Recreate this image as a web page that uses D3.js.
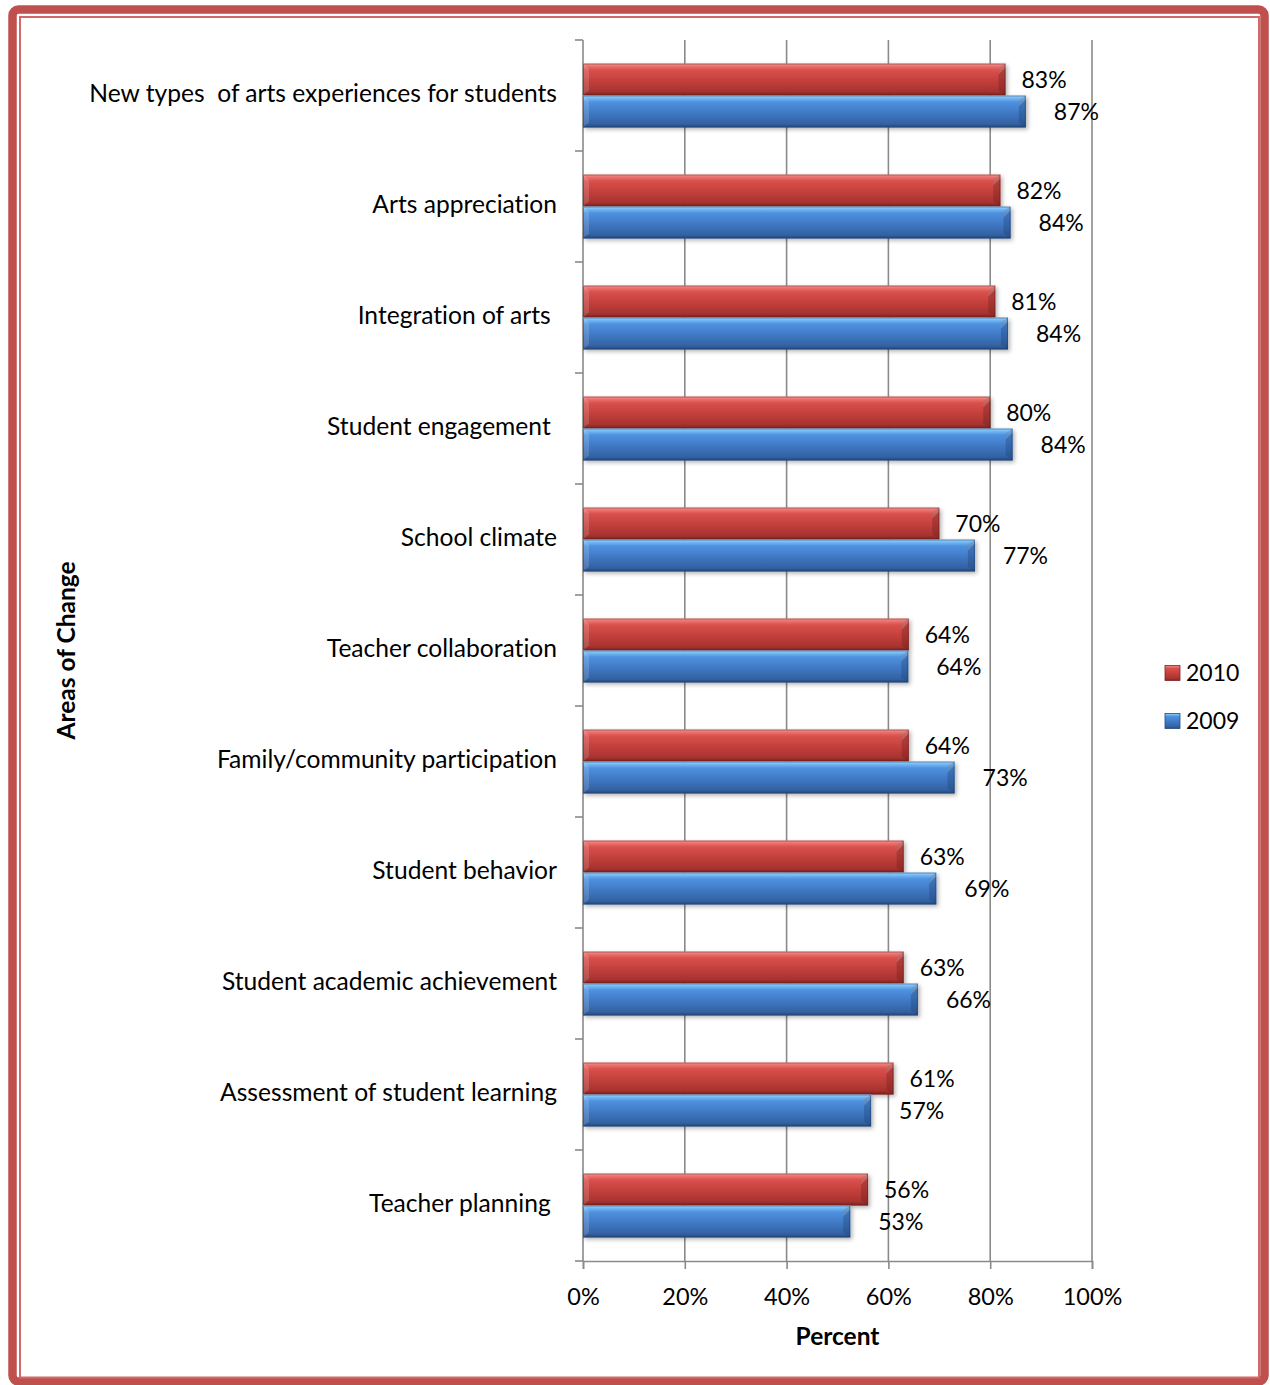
<!DOCTYPE html>
<html>
<head>
<meta charset="utf-8">
<script src="https://cdn.jsdelivr.net/npm/d3@7"></script>
<style>
  html, body { margin: 0; padding: 0; background: #ffffff; }
  svg { display: block; }
  text { font-family: Lato, "Open Sans", sans-serif; fill: #000; font-variant-ligatures: none; font-feature-settings: "liga" 0, "dlig" 0; }
</style>
</head>
<body>
<script>
// ---- data ----
const categories = [
  "New types  of arts experiences for students",
  "Arts appreciation",
  "Integration of arts ",
  "Student engagement ",
  "School climate",
  "Teacher collaboration",
  "Family/community participation",
  "Student behavior",
  "Student academic achievement",
  "Assessment of student learning",
  "Teacher planning "
];
const seriesNames = ["2010", "2009"];
const values2010 = [0.83, 0.82, 0.81, 0.80, 0.70, 0.64, 0.64, 0.63, 0.63, 0.61, 0.56];
const values2009 = [0.87, 0.84, 0.835, 0.844, 0.77, 0.639, 0.73, 0.694, 0.658, 0.566, 0.525];
const xTicks = [0, 0.2, 0.4, 0.6, 0.8, 1.0];
const xTitle = "Percent";
const yTitle = "Areas of Change";

// ---- layout ----
const W = 1270, H = 1385;
const plot = { left: 583, right: 1092, top: 40, bottom: 1261 };

const svg = d3.select("body").append("svg").attr("width", W).attr("height", H);
const defs = svg.append("defs");

function grad(id, stops) {
  const g = defs.append("linearGradient").attr("id", id)
    .attr("x1", 0).attr("y1", 0).attr("x2", 0).attr("y2", 1);
  stops.forEach(s => g.append("stop").attr("offset", s[0]).attr("stop-color", s[1]));
}
grad("gRed", [[0, "#f7a3a1"], [0.07, "#ee7572"], [0.2, "#d9504c"], [0.55, "#c23f3b"], [0.88, "#a6332f"], [1, "#7c2320"]]);
grad("gBlue", [[0, "#a8dcff"], [0.07, "#79bdf6"], [0.2, "#4f92e0"], [0.55, "#3f78c4"], [0.88, "#3462a3"], [1, "#24497c"]]);

const f = defs.append("filter").attr("id", "shadow").attr("x", "-5%").attr("y", "-30%").attr("width", "115%").attr("height", "170%");
f.append("feDropShadow").attr("dx", 2).attr("dy", 2).attr("stdDeviation", 2).attr("flood-color", "#000").attr("flood-opacity", 0.3);

// ---- frame ----
svg.append("rect").attr("x", 12.5).attr("y", 9.5).attr("width", 1264.5 - 12.5).attr("height", 1381.5 - 9.5)
  .attr("rx", 6).attr("fill", "none").attr("stroke", "#c0504d").attr("stroke-width", 8.5);
svg.append("rect").attr("x", 20).attr("y", 17).attr("width", 1259 - 20).attr("height", 1377.5 - 17)
  .attr("fill", "none").attr("stroke", "#d06a68").attr("stroke-width", 2);

// ---- scales ----
const x = d3.scaleLinear().domain([0, 1]).range([plot.left, plot.right]);
const y = d3.scaleBand().domain(categories).range([plot.top, plot.bottom]).paddingInner(0).paddingOuter(0);
const bh = y.bandwidth() * 0.288;
const groupOffset = (y.bandwidth() - 2 * bh) / 2;

// ---- gridlines ----
const gridColor = "#8a8a8a";
svg.append("g").selectAll("line").data(xTicks.slice(1)).join("line")
  .attr("x1", d => x(d)).attr("x2", d => x(d))
  .attr("y1", plot.top).attr("y2", plot.bottom)
  .attr("stroke", gridColor).attr("stroke-width", 1.6);

// ---- x axis ----
const xAxis = svg.append("g").attr("transform", `translate(0,${plot.bottom})`)
  .call(d3.axisBottom(x).tickValues(xTicks).tickFormat(d3.format(".0%")).tickSize(8).tickPadding(19));
xAxis.select(".domain").attr("stroke", gridColor).attr("stroke-width", 1.6);
xAxis.selectAll(".tick line").attr("stroke", gridColor).attr("stroke-width", 1.6);
xAxis.selectAll(".tick text").attr("font-size", 23.5).attr("font-family", "Lato, sans-serif").attr("fill", "#000");

// ---- y axis (category boundary ticks) ----
const yAxisG = svg.append("g");
yAxisG.append("line").attr("x1", plot.left).attr("x2", plot.left).attr("y1", plot.top).attr("y2", plot.bottom)
  .attr("stroke", gridColor).attr("stroke-width", 1.6);
const boundaries = categories.map(c => y(c)).concat([plot.bottom]);
yAxisG.selectAll("line.tk").data(boundaries).join("line").attr("class", "tk")
  .attr("x1", plot.left - 8).attr("x2", plot.left).attr("y1", d => d).attr("y2", d => d)
  .attr("stroke", gridColor).attr("stroke-width", 1.6);
yAxisG.selectAll("text").data(categories).join("text")
  .attr("x", 557).attr("y", d => y(d) + y.bandwidth() / 2 - 2)
  .attr("dy", "0.35em").attr("text-anchor", "end")
  .attr("font-size", 24.6).style("white-space", "pre")
  .text(d => d);

// ---- bars ----
const series = [
  { name: seriesNames[0], values: values2010, fill: "url(#gRed)", edgeDark: "#6e1f1d", labelDx: 16 },
  { name: seriesNames[1], values: values2009, fill: "url(#gBlue)", edgeDark: "#1f4272", labelDx: 28 }
];

series.forEach((s, si) => {
  const g = svg.append("g");
  const rows = categories.map((c, i) => ({ c, v: s.values[i] }));
  const top = d => y(d.c) + groupOffset + si * bh;
  g.selectAll("rect.bar").data(rows).join("rect").attr("class", "bar")
    .attr("x", x(0)).attr("y", top).attr("width", d => x(d.v) - x(0)).attr("height", bh)
    .attr("fill", s.fill).attr("filter", "url(#shadow)");
  // right bevel
  g.selectAll("path.rb").data(rows).join("path").attr("class", "rb")
    .attr("d", d => {
      const e = x(d.v), t = top(d), b = t + bh;
      return `M${e},${t} L${e - 7},${t + 5} L${e - 7},${b - 5} L${e},${b} Z`;
    })
    .attr("fill", s.edgeDark).attr("opacity", 0.35);
  g.selectAll("path.rt").data(rows).join("path").attr("class", "rt")
    .attr("d", d => {
      const e = x(d.v), t = top(d);
      return `M${e},${t} L${e - 7},${t + 5} L${e - 7},${t + 11} L${e},${t + 4} Z`;
    })
    .attr("fill", "#ffffff").attr("opacity", 0.18);
  // left bevel
  g.selectAll("path.lb").data(rows).join("path").attr("class", "lb")
    .attr("d", d => {
      const l = x(0), t = top(d), b = t + bh;
      return `M${l},${t} L${l + 6},${t + 5} L${l + 6},${b - 5} L${l},${b} Z`;
    })
    .attr("fill", "#ffffff").attr("opacity", 0.15);
  // outline
  g.selectAll("rect.ol").data(rows).join("rect").attr("class", "ol")
    .attr("x", x(0) + 0.5).attr("y", d => top(d) + 0.5).attr("width", d => x(d.v) - x(0) - 1).attr("height", bh - 1)
    .attr("fill", "none").attr("stroke", s.edgeDark).attr("stroke-opacity", 0.55).attr("stroke-width", 1);
  // labels
  g.selectAll("text").data(rows).join("text")
    .attr("x", d => x(d.v) + s.labelDx).attr("y", d => top(d) + bh / 2)
    .attr("dy", "0.35em").attr("font-size", 23)
    .text(d => d3.format(".0%")(Math.round(d.v * 100) / 100));
});

// ---- axis titles ----
svg.append("text").attr("x", (plot.left + plot.right) / 2).attr("y", 1336).attr("dy", "0.35em")
  .attr("text-anchor", "middle").attr("font-size", 24.5).attr("font-weight", "bold").text(xTitle);
svg.append("text").attr("transform", `translate(66,${(plot.top + plot.bottom) / 2}) rotate(-90)`)
  .attr("dy", "0.35em").attr("text-anchor", "middle").attr("font-size", 24.5).attr("font-weight", "bold").text(yTitle);

// ---- legend ----
const legend = svg.append("g");
const legendItems = [
  { name: seriesNames[0], fill: "url(#gRed)", stroke: "#7c2320" },
  { name: seriesNames[1], fill: "url(#gBlue)", stroke: "#24497c" }
];
legendItems.forEach((it, i) => {
  const cy = 673 + i * 48;
  legend.append("rect").attr("x", 1165).attr("y", cy - 7.5).attr("width", 15).attr("height", 15)
    .attr("fill", it.fill).attr("stroke", it.stroke).attr("stroke-width", 0.8);
  legend.append("text").attr("x", 1186).attr("y", cy).attr("dy", "0.35em").attr("font-size", 23).text(it.name);
});
</script>
</body>
</html>
